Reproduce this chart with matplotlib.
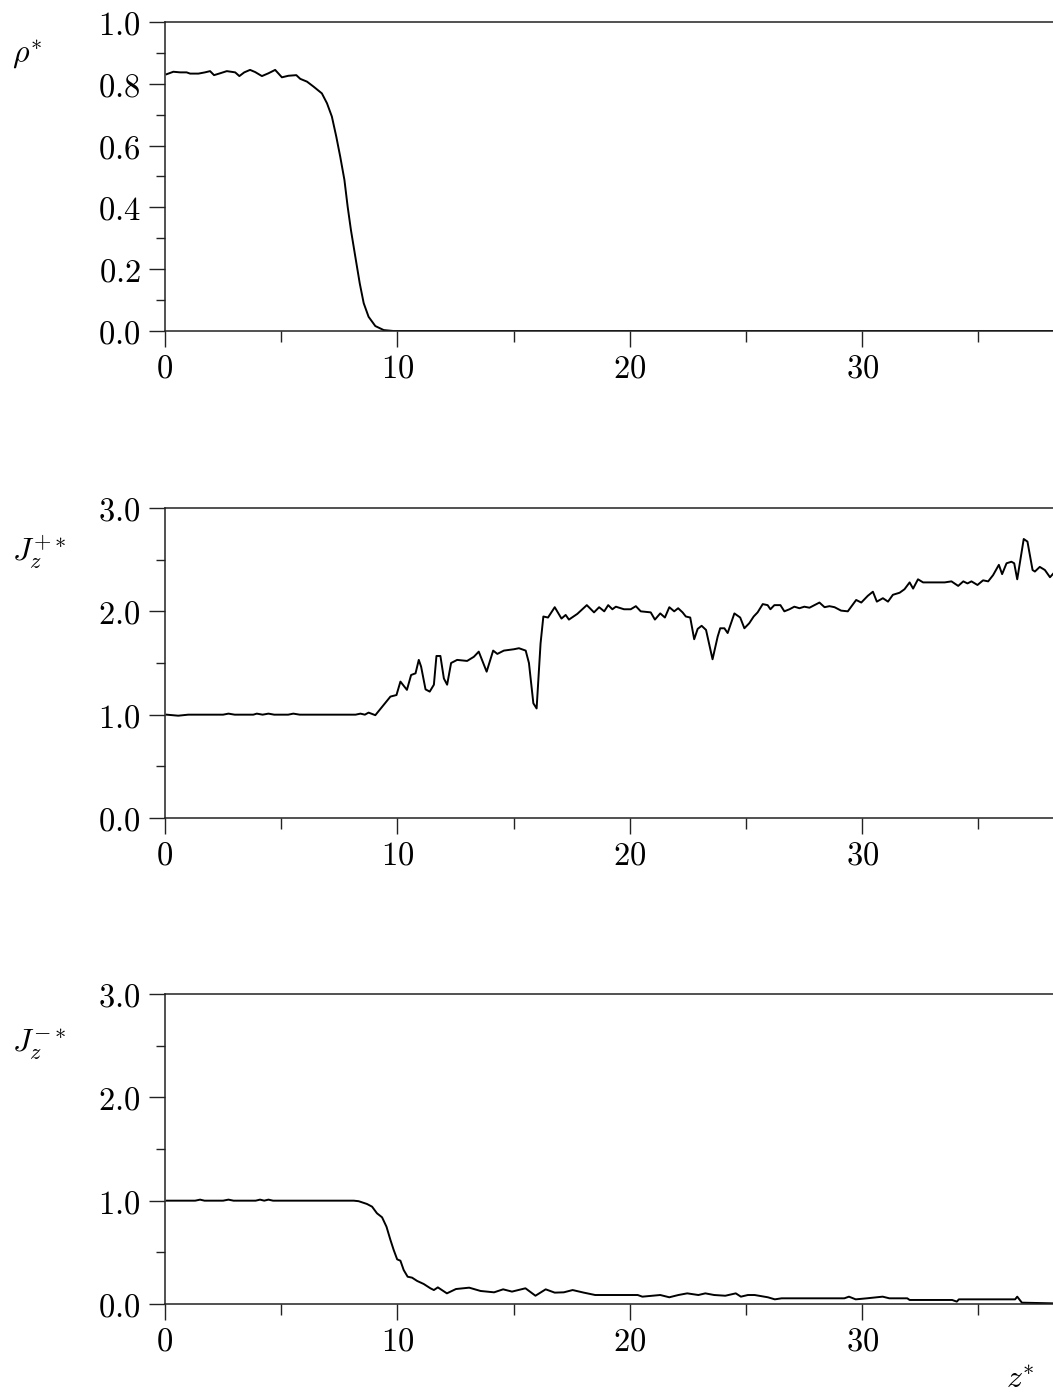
import matplotlib
matplotlib.use("Agg")
import matplotlib.pyplot as plt
from matplotlib.ticker import MultipleLocator, FuncFormatter

plt.rcParams['mathtext.fontset'] = 'cm'
plt.rcParams['font.family'] = ['DejaVu Serif']

# ---------------- data ----------------
rho_z = [0.07, 0.36, 0.65, 0.93, 1.08, 1.44, 1.72, 1.94, 2.11, 2.37, 2.66, 3.02, 3.2, 3.41,
         3.66, 3.88, 4.17, 4.45, 4.74, 5.03, 5.31, 5.65, 5.82, 6.11, 6.39, 6.75, 6.97, 7.18,
         7.37, 7.54, 7.72, 7.86, 8.0, 8.19, 8.38, 8.55, 8.76, 9.05, 9.41, 9.83, 12, 16, 20,
         24, 28, 32, 36, 38.3]
rho = [0.831, 0.839, 0.837, 0.837, 0.833, 0.833, 0.837, 0.841, 0.828, 0.834, 0.841, 0.837,
       0.825, 0.837, 0.845, 0.838, 0.825, 0.834, 0.845, 0.821, 0.826, 0.828, 0.816, 0.807,
       0.791, 0.769, 0.737, 0.694, 0.629, 0.564, 0.489, 0.402, 0.327, 0.240, 0.154, 0.090,
       0.046, 0.016, 0.003, 0.0, 0, 0, 0, 0, 0, 0, 0, 0]

jp_z = [0.07, 0.57, 1.0, 2.5, 2.73, 3.0, 3.8, 3.95, 4.2, 4.45, 4.7, 5.3, 5.52, 5.8, 8.2, 8.41,
        8.6, 8.76, 9.05, 9.41, 9.7, 9.96, 10.13, 10.41, 10.59, 10.78, 10.92, 11.02, 11.21,
        11.39, 11.57, 11.68, 11.85, 12.0, 12.14, 12.31, 12.57, 13.0, 13.29, 13.5, 13.84,
        14.12, 14.3, 14.58, 15.01, 15.23, 15.52, 15.66, 15.85, 15.99, 16.16, 16.28, 16.48,
        16.77, 17.06, 17.24, 17.38, 17.74, 18.15, 18.46, 18.68, 18.9, 19.07, 19.25, 19.4,
        19.75, 20.04, 20.26, 20.47, 20.9, 21.08, 21.31, 21.51, 21.7, 21.91, 22.08, 22.27,
        22.41, 22.6, 22.77, 22.92, 23.09, 23.28, 23.56, 23.78, 23.89, 24.07, 24.21, 24.5,
        24.75, 24.93, 25.14, 25.33, 25.5, 25.72, 25.93, 26.05, 26.22, 26.48, 26.65, 26.87,
        27.08, 27.3, 27.51, 27.73, 27.94, 28.16, 28.38, 28.59, 28.81, 29.09, 29.38, 29.74,
        29.96, 30.24, 30.46, 30.63, 30.89, 31.11, 31.32, 31.61, 31.82, 32.04, 32.19, 32.4,
        32.62, 33.12, 33.55, 33.84, 34.13, 34.35, 34.53, 34.7, 34.96, 35.2, 35.42, 35.63,
        35.88, 36.02, 36.21, 36.42, 36.54, 36.67, 36.95, 37.11, 37.33, 37.43, 37.64, 37.86,
        38.08, 38.26]
jp = [1.0, 0.99, 1.0, 1.0, 1.01, 1.0, 1.0, 1.01, 1.0, 1.01, 1.0, 1.0, 1.01, 1.0, 1.0, 1.01,
      1.0, 1.02, 0.995, 1.094, 1.175, 1.19, 1.32, 1.24, 1.384, 1.40, 1.53, 1.465, 1.245,
      1.223, 1.29, 1.568, 1.568, 1.35, 1.29, 1.50, 1.53, 1.52, 1.56, 1.61, 1.416, 1.62,
      1.588, 1.62, 1.633, 1.643, 1.62, 1.50, 1.11, 1.06, 1.69, 1.95, 1.94, 2.04, 1.93,
      1.965, 1.92, 1.975, 2.06, 1.99, 2.04, 2.0, 2.06, 2.02, 2.045, 2.02, 2.02, 2.05, 2.0,
      1.99, 1.92, 1.98, 1.94, 2.04, 2.0, 2.03, 1.99, 1.95, 1.94, 1.73, 1.83, 1.86, 1.82,
      1.536, 1.755, 1.836, 1.836, 1.79, 1.98, 1.94, 1.836, 1.885, 1.95, 1.99, 2.07, 2.06,
      2.02, 2.06, 2.06, 2.0, 2.02, 2.045, 2.03, 2.045, 2.035, 2.06, 2.085, 2.04, 2.05, 2.04,
      2.007, 2.0, 2.11, 2.085, 2.15, 2.19, 2.094, 2.127, 2.094, 2.16, 2.18, 2.214, 2.28,
      2.22, 2.31, 2.28, 2.28, 2.28, 2.29, 2.246, 2.29, 2.27, 2.29, 2.255, 2.30, 2.29, 2.35,
      2.45, 2.36, 2.465, 2.48, 2.465, 2.31, 2.70, 2.675, 2.40, 2.385, 2.43, 2.40, 2.33,
      2.375]

jm_z = [0.07, 1.3, 1.51, 1.7, 2.5, 2.73, 2.95, 3.9, 4.09, 4.27, 4.45, 4.65, 8.12, 8.33, 8.69,
        8.91, 9.12, 9.34, 9.53, 9.7, 9.84, 9.99, 10.13, 10.27, 10.44, 10.63, 10.85, 11.13,
        11.42, 11.57, 11.74, 12.13, 12.52, 13.09, 13.58, 14.16, 14.55, 14.93, 15.51, 15.94,
        16.38, 16.77, 17.16, 17.54, 18.02, 18.51, 19.57, 20.34, 20.54, 21.31, 21.7, 22.09,
        22.47, 22.95, 23.25, 23.63, 24.11, 24.56, 24.78, 25.08, 25.37, 25.94, 26.24, 26.53,
        29.23, 29.43, 29.72, 30.2, 30.88, 31.17, 31.94, 32.04, 33.87, 34.07, 34.16, 36.58,
        36.67, 36.87, 38.27]
jm = [1.0, 1.0, 1.01, 1.0, 1.0, 1.01, 1.0, 1.0, 1.01, 1.0, 1.01, 1.0, 1.0, 0.995, 0.968,
      0.942, 0.878, 0.839, 0.748, 0.62, 0.523, 0.432, 0.419, 0.329, 0.264, 0.255, 0.223,
      0.194, 0.152, 0.135, 0.161, 0.103, 0.145, 0.158, 0.126, 0.113, 0.142, 0.12, 0.152,
      0.08, 0.142, 0.11, 0.113, 0.135, 0.11, 0.087, 0.087, 0.087, 0.071, 0.087, 0.065,
      0.087, 0.103, 0.087, 0.103, 0.087, 0.08, 0.103, 0.071, 0.087, 0.087, 0.065, 0.045,
      0.055, 0.055, 0.071, 0.045, 0.055, 0.071, 0.055, 0.055, 0.039, 0.039, 0.023, 0.045,
      0.045, 0.071, 0.013, 0.006]

x_ticks = [0, 10, 20, 30]
ylabels = [r'$\rho^{*}$', r'$J_z^{+*}$', r'$J_z^{-*}$']
xlabel = r'$z^{*}$'

# ---------------- figure ----------------
W, H = 1053, 1394
fig = plt.figure(figsize=(W / 100, H / 100), dpi=100)

panels = [
    (rho_z, rho, (0, 1.0), 0.2, 0.1, 22, 331, ylabels[0], 55),
    (jp_z, jp, (0, 3.0), 1.0, 0.5, 508, 818, ylabels[1], 552),
    (jm_z, jm, (0, 3.0), 1.0, 0.5, 994, 1304, ylabels[2], 1045),
]

fmt = FuncFormatter(lambda v, p: r'$%.1f$' % v)
xfmt = FuncFormatter(lambda v, p: r'$%d$' % round(v))

left_px = 165
for (zx, zy, ylim, ymaj, ymin, top_px, bot_px, lab, lab_y) in panels:
    ax = fig.add_axes([left_px / W, 1 - bot_px / H, (W - left_px) / W + 0.002,
                       (bot_px - top_px) / H])
    ax.plot(zx, zy, color='black', lw=1.4, solid_joinstyle='round')
    ax.set_xlim(0, 38.3)
    ax.set_ylim(*ylim)
    ax.spines['right'].set_visible(False)
    for s in ['left', 'bottom', 'top']:
        ax.spines[s].set_linewidth(1.1)
        ax.spines[s].set_color('#222222')
    ax.xaxis.set_major_locator(MultipleLocator(10))
    ax.xaxis.set_minor_locator(MultipleLocator(5))
    ax.yaxis.set_major_locator(MultipleLocator(ymaj))
    ax.yaxis.set_minor_locator(MultipleLocator(ymin))
    ax.yaxis.set_major_formatter(fmt)
    ax.xaxis.set_major_formatter(xfmt)
    ax.tick_params(axis='both', which='major', direction='out', length=11.5, width=1.0,
                   color='#222222', labelsize=23.5)
    ax.tick_params(axis='y', which='minor', direction='out', length=6.5, width=1.0,
                   color='#222222')
    ax.tick_params(axis='x', which='minor', direction='out', length=8, width=1.0,
                   color='#222222')
    ax.tick_params(axis='y', which='major', pad=6)
    ax.tick_params(axis='x', which='major', pad=4)
    fig.text(12 / W, 1 - lab_y / H, lab, fontsize=23, ha='left', va='center')

fig.text(1020 / W, 1 - 1380 / H, xlabel, fontsize=23, ha='center', va='center')

fig.savefig('out.png', dpi=100)
